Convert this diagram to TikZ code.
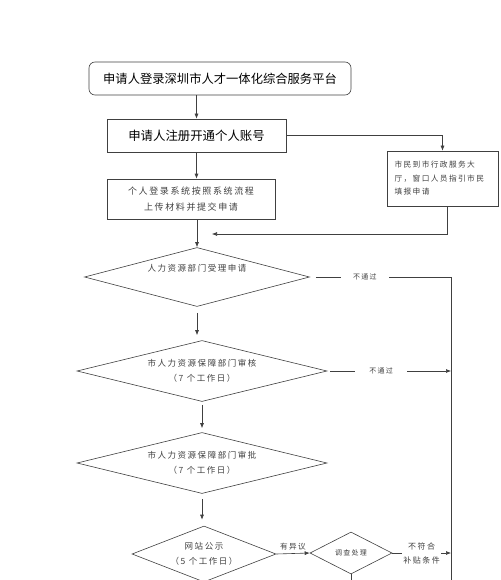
\documentclass[tikz,border=0pt]{standalone}
\usepackage{fontspec}
\setmainfont{Noto Sans CJK SC}
\newfontfamily\cjkspaced[LetterSpace=18]{Noto Sans CJK SC}
\usetikzlibrary{shapes.geometric,arrows.meta}

\tikzset{
  flowline/.style={draw=black!75, line width=0.6pt},
  stepbox/.style={flowline, rectangle, inner sep=0pt, align=center},
  decision/.style={flowline, diamond, inner sep=0pt, align=center, text=black!75,
    font={\cjkspaced\fontsize{8.5}{15}\selectfont}},
  tag/.style={text=black!75, font={\cjkspaced\fontsize{7}{10}\selectfont}}
}

\begin{document}
\begin{tikzpicture}[x=1pt, y=-1pt, >={Latex[length=5pt,width=4pt]}]
    \useasboundingbox (0,0) rectangle (500,580);
    \clip (0,0) rectangle (500,580);

    % Boxes
    \node[stepbox, rounded corners=6pt, minimum width=262pt, minimum height=33pt,
      font=\fontsize{12.3}{14}\selectfont] (login) at (220,78.5) {申请人登录深圳市人才一体化综合服务平台};
    \node[stepbox, minimum width=179pt, minimum height=33pt,
      font=\fontsize{12.4}{14}\selectfont] (register) at (196.5,135.5) {申请人注册开通个人账号};
    \node[stepbox, minimum width=168pt, minimum height=40pt, text=black!75,
      font={\cjkspaced\fontsize{9}{16}\selectfont}] (upload) at (191,199) {个人登录系统按照系统流程\\上传材料并提交申请};
    \node[stepbox, minimum width=111pt, minimum height=55pt, text width=96pt, align=left, text=black!75,
      font={\cjkspaced\fontsize{7.7}{13.5}\selectfont}] (hall) at (442.5,178.5) {市民到市行政服务大\\厅，窗口人员指引市民\\填报申请};

    % Decisions
    \node[decision, minimum width=225pt, minimum height=59pt, aspect=3.8] (accept) at (197,277) {人力资源部门受理申请\\[4pt]};
    \node[decision, minimum width=250pt, minimum height=61pt, aspect=4.1] (review) at (202,371) {市人力资源保障部门审核\\（7 个工作日）};
    \node[decision, minimum width=250pt, minimum height=61pt, aspect=4.1] (approve) at (202,463) {市人力资源保障部门审批\\（7 个工作日）};
    \node[decision, minimum width=144pt, minimum height=56pt, aspect=2.6] (publish) at (204,554) {网站公示\\（5 个工作日）};
    \node[decision, minimum width=82pt, minimum height=42pt, aspect=2,
      font={\cjkspaced\fontsize{7}{10}\selectfont}] (inquiry) at (351,553) {调查处理};

    % Free ends
    \coordinate (back) at (212,234);
    \coordinate (rail) at (451,0);
    \coordinate (railend) at (451,590);
    \coordinate (inquiryend) at (351,590);

    % Main flow
    \draw[flowline, ->] (login.south -| register) -- (register.north);
    \draw[flowline, ->] (register.south) -- (register.south |- upload.north);
    \draw[flowline, ->] (upload.south -| accept) -- (accept.north);
    \draw[flowline, ->, shorten <=6pt, shorten >=5pt] (accept.south) -- (accept.south |- review.north);
    \draw[flowline, ->, shorten <=3pt, shorten >=4pt] (review.south) -- (approve.north);
    \draw[flowline, ->, shorten <=5pt, shorten >=6pt] (approve.south) -- (approve.south |- publish.north);
    \draw[flowline, ->] (publish.east) -- node[tag, above, font={\cjkspaced\fontsize{7.6}{10}\selectfont}] {有异议} (inquiry.west);
    \draw[flowline] (inquiry.south) -- (inquiryend);

    % Counter route
    \draw[flowline, ->] (register.east) -| (hall.north);
    \draw[flowline, ->] ([xshift=5pt]hall.south) |- (back);

    % Rejections
    \draw[flowline, shorten <=6pt] (accept.east) -- node[tag, pos=0.39, fill=white, inner xsep=12pt] {不通过} (accept.east -| rail) -- (railend);
    \draw[flowline, ->, shorten <=3pt] (review.east) -- node[tag, pos=0.435, fill=white, inner xsep=14pt] {不通过} (review.east -| rail);
    \draw[flowline, ->] (inquiry.east) -- node[tag, fill=white, inner xsep=1pt, align=center,
      font={\cjkspaced\fontsize{8}{14}\selectfont}] {不符合\\补贴条件} (inquiry.east -| rail);
\end{tikzpicture}
\end{document}
